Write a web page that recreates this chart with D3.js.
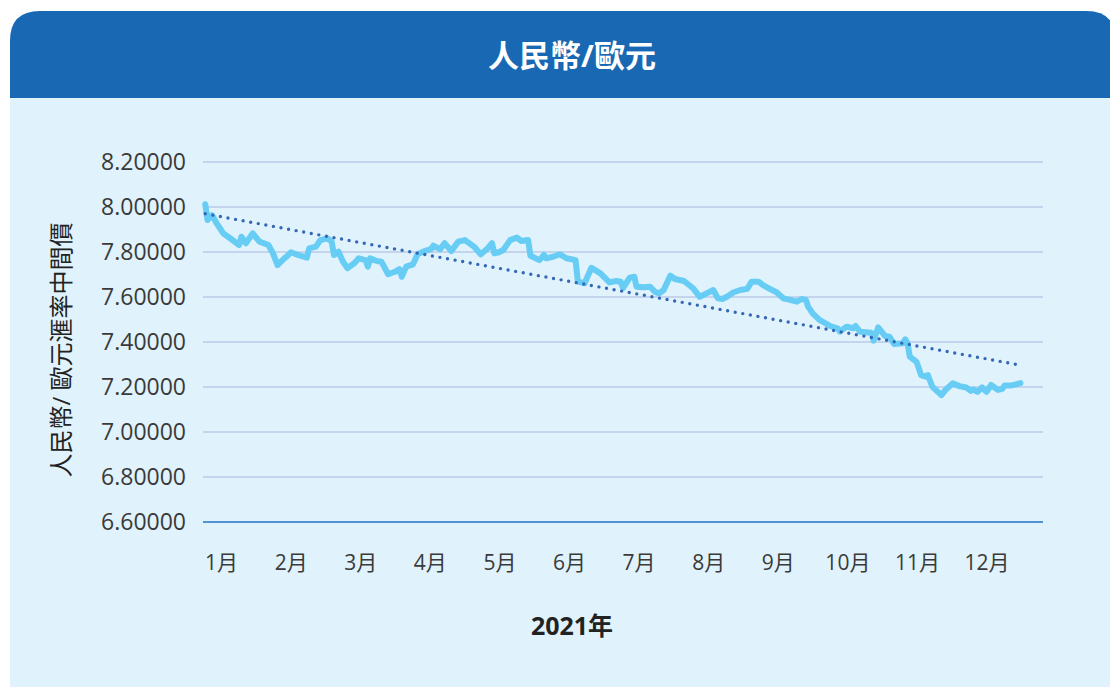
<!DOCTYPE html>
<html>
<head>
<meta charset="utf-8">
<script src="https://cdn.jsdelivr.net/npm/d3@7"></script>
<style>
  html, body { margin: 0; padding: 0; background: #ffffff; }
  svg { display: block; }
  text { font-family: "Open Sans", "Noto Sans CJK TC", sans-serif; }
</style>
</head>
<body>
<div id="chart"></div>
<script>
const chartTitle = "人民幣/歐元"
const yTitle = "人民幣/ 歐元滙率中間價"
const xTitle = "2021年"

// day of year 2021 for each reading
const days = [4, 5, 7, 9, 12, 15, 19, 20, 22, 25, 28, 32, 34, 36, 39, 40, 42, 45, 49, 50,
  53, 55, 58, 60, 61, 63, 65, 67, 70, 72, 75, 76, 77, 80, 82, 85, 88, 90, 91, 93,
  96, 98, 101, 104, 105, 108, 110, 113, 116, 119, 123, 126, 129, 131, 132, 134, 136, 139, 142, 144,
  147, 148, 152, 154, 155, 158, 161, 164, 168, 169, 172, 175, 179, 183, 186, 188, 189, 192, 194, 195,
  198, 201, 203, 205, 207, 210, 212, 216, 220, 223, 226, 229, 231, 233, 235, 238, 241, 244, 246, 249,
  251, 254, 257, 260, 263, 266, 268, 270, 271, 273, 276, 281, 284, 285, 288, 291, 292, 294, 299, 300,
  302, 305, 307, 309, 313, 314, 315, 316, 319, 321, 323, 324, 326, 330, 332, 335, 338, 341, 343, 344,
  346, 348, 350, 352, 355, 357, 358, 361, 363, 365]

// RMB per euro, central parity
const rates = [8.012, 7.942, 7.964, 7.928, 7.883, 7.861, 7.831, 7.868, 7.839, 7.883, 7.846, 7.831, 7.794, 7.742, 7.772, 7.779, 7.799, 7.787, 7.775, 7.816,
  7.824, 7.853, 7.861, 7.846, 7.787, 7.801, 7.757, 7.728, 7.750, 7.772, 7.764, 7.735, 7.772, 7.760, 7.757, 7.701, 7.712, 7.724, 7.690, 7.735,
  7.745, 7.790, 7.804, 7.813, 7.828, 7.813, 7.839, 7.804, 7.846, 7.853, 7.824, 7.790, 7.816, 7.839, 7.794, 7.799, 7.809, 7.853, 7.864, 7.849,
  7.853, 7.783, 7.764, 7.787, 7.772, 7.779, 7.790, 7.772, 7.764, 7.668, 7.661, 7.730, 7.705, 7.665, 7.671, 7.668, 7.640, 7.686, 7.690, 7.646,
  7.643, 7.646, 7.624, 7.616, 7.631, 7.695, 7.680, 7.671, 7.639, 7.601, 7.616, 7.631, 7.594, 7.591, 7.601, 7.621, 7.631, 7.636, 7.668, 7.668,
  7.653, 7.636, 7.621, 7.594, 7.587, 7.579, 7.591, 7.587, 7.557, 7.527, 7.498, 7.470, 7.461, 7.446, 7.468, 7.461, 7.471, 7.446, 7.441, 7.406,
  7.465, 7.427, 7.424, 7.391, 7.394, 7.412, 7.394, 7.335, 7.312, 7.253, 7.246, 7.253, 7.201, 7.164, 7.189, 7.216, 7.204, 7.198, 7.183, 7.189,
  7.179, 7.198, 7.179, 7.209, 7.187, 7.192, 7.207, 7.207, 7.212, 7.217]

// dotted trend line end points
const trendDays = [4, 365]
const trendRates = [7.97, 7.297]

const yTicks = [8.2, 8.0, 7.8, 7.6, 7.4, 7.2, 7.0, 6.8, 6.6]
const monthLabels = ["1月", "2月", "3月", "4月", "5月", "6月", "7月", "8月", "9月", "10月", "11月", "12月"]

const W = 1110, H = 687
const toDate = d => new Date(2021, 0, d)

const svg = d3.select("#chart").append("svg")
    .attr("width", W)
    .attr("height", H)

// Card background
svg.append("path")
    .attr("d", "M10,687 L10,41 Q10,11 40,11 L1086,11 Q1116,11 1116,41 L1116,687 Z")
    .attr("fill", "#e0f2fb")
svg.append("path")
    .attr("d", "M10,98 L10,41 Q10,11 40,11 L1086,11 Q1116,11 1116,41 L1116,98 Z")
    .attr("fill", "#1868b4")

svg.append("text")
    .attr("x", 572)
    .attr("y", 67)
    .attr("text-anchor", "middle")
    .attr("fill", "#ffffff")
    .style("font-size", "31px")
    .style("font-weight", "bold")
    .text(chartTitle)

// Plot area
const plotLeft = 203, plotRight = 1043, plotTop = 162, plotBottom = 522

const x = d3.scaleTime()
    .domain([new Date(2021, 0, 3), new Date(2022, 0, 10)])
    .range([plotLeft, plotRight])

const y = d3.scaleLinear()
    .domain([6.6, 8.2])
    .range([plotBottom, plotTop])

// Grid lines
svg.append("g")
    .selectAll("line")
    .data(yTicks.filter(v => v > 6.6))
    .join("line")
    .attr("x1", plotLeft)
    .attr("x2", plotRight)
    .attr("y1", d => y(d))
    .attr("y2", d => y(d))
    .attr("stroke", "#a9b5e0")
    .attr("stroke-width", 1.2)

// Y axis labels
const yAxis = svg.append("g")
    .attr("transform", "translate(" + plotLeft + ",0)")
    .call(d3.axisLeft(y).tickValues(yTicks).tickFormat(d3.format(".5f")).tickSize(0).tickPadding(17))
yAxis.select(".domain").remove()
yAxis.selectAll("text")
    .attr("fill", "#3a3a3a")
    .style("font-size", "23px")
    .style("font-family", "'Open Sans', sans-serif")

// Bottom axis line
svg.append("line")
    .attr("x1", plotLeft)
    .attr("x2", plotRight)
    .attr("y1", y(6.6))
    .attr("y2", y(6.6))
    .attr("stroke", "#4f93d3")
    .attr("stroke-width", 2)

// Month labels
const xMonth = d3.scalePoint()
    .domain(monthLabels)
    .range([x(new Date(2021, 0, 11)), x(new Date(2021, 11, 16))])

const xAxis = svg.append("g")
    .attr("transform", "translate(0," + (plotBottom + 25) + ")")
    .call(d3.axisBottom(xMonth).tickSize(0).tickPadding(8))
xAxis.select(".domain").remove()
xAxis.selectAll("text")
    .attr("fill", "#3a3a3a")
    .style("font-size", "21px")

// Axis titles
svg.append("text")
    .attr("transform", "translate(70," + 350 + ") rotate(-90)")
    .attr("text-anchor", "middle")
    .attr("fill", "#222222")
    .style("font-size", "24px")
    .text(yTitle)

svg.append("text")
    .attr("x", 572)
    .attr("y", 635)
    .attr("text-anchor", "middle")
    .attr("fill", "#222222")
    .style("font-size", "25px")
    .style("font-weight", "bold")
    .text(xTitle)

// Rate line
const series = days.map((d, i) => ({ date: toDate(d), value: rates[i] }))
svg.append("path")
    .datum(series)
    .attr("fill", "none")
    .attr("stroke", "#68cdf5")
    .attr("stroke-width", 6)
    .attr("stroke-linejoin", "round")
    .attr("stroke-linecap", "round")
    .attr("d", d3.line()
        .x(d => x(d.date))
        .y(d => y(d.value))
    )

// Trend line
const trend = trendDays.map((d, i) => ({ date: toDate(d), value: trendRates[i] }))
svg.append("path")
    .datum(trend)
    .attr("fill", "none")
    .attr("stroke", "#3467b5")
    .attr("stroke-width", 3.4)
    .attr("stroke-linecap", "round")
    .attr("stroke-dasharray", "0 7.7")
    .attr("d", d3.line()
        .x(d => x(d.date))
        .y(d => y(d.value))
    )
</script>
</body>
</html>
